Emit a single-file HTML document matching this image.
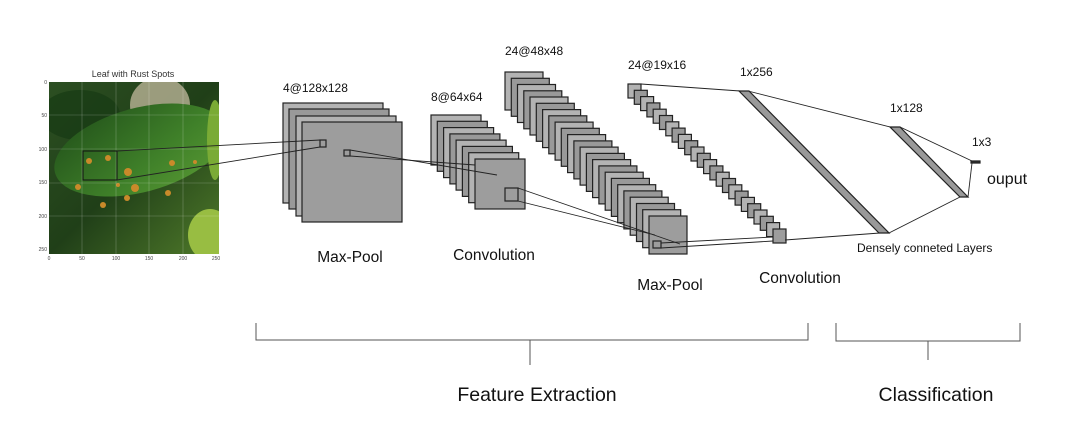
<!DOCTYPE html>
<html><head><meta charset="utf-8"><style>
html,body{margin:0;padding:0;background:#fff;width:1078px;height:426px;overflow:hidden}
svg{display:block;font-family:"Liberation Sans",sans-serif}
</style></head><body>
<svg width="1078" height="426" viewBox="0 0 1078 426" xmlns="http://www.w3.org/2000/svg">
<defs>
<linearGradient id="bg" x1="0" y1="0" x2="1" y2="1"><stop offset="0" stop-color="#2c4f22"/><stop offset=".5" stop-color="#203f18"/><stop offset="1" stop-color="#4f7a2a"/></linearGradient>
<linearGradient id="lf" x1="0" y1="0" x2="1" y2="1"><stop offset="0" stop-color="#21501a"/><stop offset=".6" stop-color="#3f8029"/><stop offset="1" stop-color="#5a9a34"/></linearGradient>
<clipPath id="c"><rect x="49" y="82" width="170" height="172"/></clipPath>
</defs>
<!-- leaf image -->
<text x="133" y="77" font-size="9" text-anchor="middle" fill="#333">Leaf with Rust Spots</text>
<g clip-path="url(#c)">
<rect x="49" y="82" width="170" height="172" fill="url(#bg)"/>
<ellipse cx="160" cy="105" rx="30" ry="28" fill="#b9b396" opacity=".8"/>
<ellipse cx="80" cy="115" rx="40" ry="25" fill="#173a14" opacity=".7"/>
<ellipse cx="140" cy="150" rx="88" ry="42" transform="rotate(-15 140 150)" fill="url(#lf)"/>
<ellipse cx="210" cy="235" rx="22" ry="26" fill="#98bd42"/>
<ellipse cx="215" cy="140" rx="8" ry="40" fill="#7aab35"/>
<g fill="#c98a2a"><circle cx="89" cy="161" r="3"/><circle cx="108" cy="158" r="3"/><circle cx="128" cy="172" r="4"/><circle cx="135" cy="188" r="4"/><circle cx="127" cy="198" r="3"/><circle cx="168" cy="193" r="3"/><circle cx="172" cy="163" r="3"/><circle cx="103" cy="205" r="3"/><circle cx="78" cy="187" r="3"/><circle cx="118" cy="185" r="2"/><circle cx="195" cy="162" r="2"/></g>
<g stroke="#fff" stroke-opacity=".3" stroke-width=".6"><line x1="82" y1="82" x2="82" y2="254"/><line x1="116" y1="82" x2="116" y2="254"/><line x1="149" y1="82" x2="149" y2="254"/><line x1="183" y1="82" x2="183" y2="254"/><line x1="49" y1="115" x2="219" y2="115"/><line x1="49" y1="149" x2="219" y2="149"/><line x1="49" y1="183" x2="219" y2="183"/><line x1="49" y1="216" x2="219" y2="216"/></g>
</g>
<g font-size="5" fill="#444"><text x="47" y="84" text-anchor="end">0</text><text x="47" y="117" text-anchor="end">50</text><text x="47" y="151" text-anchor="end">100</text><text x="47" y="184" text-anchor="end">150</text><text x="47" y="218" text-anchor="end">200</text><text x="47" y="251" text-anchor="end">250</text>
<text x="49" y="260" text-anchor="middle">0</text><text x="82" y="260" text-anchor="middle">50</text><text x="116" y="260" text-anchor="middle">100</text><text x="149" y="260" text-anchor="middle">150</text><text x="183" y="260" text-anchor="middle">200</text><text x="216" y="260" text-anchor="middle">250</text></g>
<rect x="83" y="151" width="34" height="29" fill="none" stroke="#111" stroke-width="1"/>

<g stroke="#222" stroke-width="1.2">
<rect x="283" y="103" width="100" height="100" fill="#b3b3b3"/>
<rect x="289" y="109" width="100" height="100" fill="#999"/>
<rect x="296" y="116" width="100" height="100" fill="#b3b3b3"/>
<rect x="302" y="122" width="100" height="100" fill="#9d9d9d"/>
<rect x="320" y="140" width="6" height="7" fill="none"/>
<rect x="344" y="150" width="6" height="6" fill="none"/>
<rect x="431" y="115" width="50" height="50" fill="#b3b3b3"/>
<rect x="437.3" y="121.3" width="50" height="50" fill="#999"/>
<rect x="443.6" y="127.6" width="50" height="50" fill="#b3b3b3"/>
<rect x="449.9" y="133.9" width="50" height="50" fill="#999"/>
<rect x="456.1" y="140.1" width="50" height="50" fill="#b3b3b3"/>
<rect x="462.4" y="146.4" width="50" height="50" fill="#999"/>
<rect x="468.7" y="152.7" width="50" height="50" fill="#b3b3b3"/>
<rect x="475" y="159" width="50" height="50" fill="#9d9d9d"/>
<rect x="505" y="188" width="13" height="13" fill="none"/>
</g>
<g stroke="#222" stroke-width="1.2" transform="translate(505,72)">
<rect x="0" y="0" width="38" height="38" fill="#b3b3b3"/>
<rect x="6.3" y="6.3" width="38" height="38" fill="#999"/>
<rect x="12.5" y="12.5" width="38" height="38" fill="#b3b3b3"/>
<rect x="18.8" y="18.8" width="38" height="38" fill="#999"/>
<rect x="25" y="25" width="38" height="38" fill="#b3b3b3"/>
<rect x="31.3" y="31.3" width="38" height="38" fill="#999"/>
<rect x="37.6" y="37.6" width="38" height="38" fill="#b3b3b3"/>
<rect x="43.8" y="43.8" width="38" height="38" fill="#999"/>
<rect x="50.1" y="50.1" width="38" height="38" fill="#b3b3b3"/>
<rect x="56.3" y="56.3" width="38" height="38" fill="#999"/>
<rect x="62.6" y="62.6" width="38" height="38" fill="#b3b3b3"/>
<rect x="68.9" y="68.9" width="38" height="38" fill="#999"/>
<rect x="75.1" y="75.1" width="38" height="38" fill="#b3b3b3"/>
<rect x="81.4" y="81.4" width="38" height="38" fill="#999"/>
<rect x="87.6" y="87.6" width="38" height="38" fill="#b3b3b3"/>
<rect x="93.9" y="93.9" width="38" height="38" fill="#999"/>
<rect x="100.2" y="100.2" width="38" height="38" fill="#b3b3b3"/>
<rect x="106.4" y="106.4" width="38" height="38" fill="#999"/>
<rect x="112.7" y="112.7" width="38" height="38" fill="#b3b3b3"/>
<rect x="118.9" y="118.9" width="38" height="38" fill="#999"/>
<rect x="125.2" y="125.2" width="38" height="38" fill="#b3b3b3"/>
<rect x="131.5" y="131.5" width="38" height="38" fill="#999"/>
<rect x="137.7" y="137.7" width="38" height="38" fill="#b3b3b3"/>
<rect x="144" y="144" width="38" height="38" fill="#9d9d9d"/>
<rect x="148" y="169" width="8" height="7" fill="none"/>
</g>
<g stroke="#222" stroke-width="1.2" transform="translate(628,84)">
<rect x="0" y="0" width="13" height="14" fill="#b3b3b3"/>
<rect x="6.3" y="6.3" width="13" height="14" fill="#999"/>
<rect x="12.6" y="12.6" width="13" height="14" fill="#b3b3b3"/>
<rect x="18.9" y="18.9" width="13" height="14" fill="#999"/>
<rect x="25.2" y="25.2" width="13" height="14" fill="#b3b3b3"/>
<rect x="31.5" y="31.5" width="13" height="14" fill="#999"/>
<rect x="37.8" y="37.8" width="13" height="14" fill="#b3b3b3"/>
<rect x="44.1" y="44.1" width="13" height="14" fill="#999"/>
<rect x="50.4" y="50.4" width="13" height="14" fill="#b3b3b3"/>
<rect x="56.7" y="56.7" width="13" height="14" fill="#999"/>
<rect x="63" y="63" width="13" height="14" fill="#b3b3b3"/>
<rect x="69.3" y="69.3" width="13" height="14" fill="#999"/>
<rect x="75.6" y="75.6" width="13" height="14" fill="#b3b3b3"/>
<rect x="81.9" y="81.9" width="13" height="14" fill="#999"/>
<rect x="88.2" y="88.2" width="13" height="14" fill="#b3b3b3"/>
<rect x="94.5" y="94.5" width="13" height="14" fill="#999"/>
<rect x="100.8" y="100.8" width="13" height="14" fill="#b3b3b3"/>
<rect x="107.1" y="107.1" width="13" height="14" fill="#999"/>
<rect x="113.4" y="113.4" width="13" height="14" fill="#b3b3b3"/>
<rect x="119.7" y="119.7" width="13" height="14" fill="#999"/>
<rect x="126" y="126" width="13" height="14" fill="#b3b3b3"/>
<rect x="132.3" y="132.3" width="13" height="14" fill="#999"/>
<rect x="138.6" y="138.6" width="13" height="14" fill="#b3b3b3"/>
<rect x="145" y="145" width="13" height="14" fill="#9d9d9d"/>
</g>
<g stroke="#222" stroke-width="1.2" fill="#999">
<polygon points="739,91 749,91 889,233 879,233"/>
<polygon points="890,127 900,127 968,197 960,197"/>
<polygon points="971,161 980,161 980,163 971,163" fill="#333"/>
</g>
<g stroke="#222" stroke-width=".9" fill="none">
<line x1="117" y1="151" x2="320" y2="140"/>
<line x1="117" y1="180" x2="320" y2="147"/>
<line x1="350" y1="150" x2="497" y2="175"/>
<line x1="350" y1="156" x2="475" y2="165"/>
<line x1="518" y1="188" x2="680" y2="244"/>
<line x1="518" y1="201" x2="655" y2="235"/>
<line x1="661" y1="243" x2="773" y2="237"/>
<line x1="661" y1="248" x2="773" y2="241"/>
<line x1="641" y1="84" x2="740" y2="91"/>
<line x1="785" y1="240" x2="880" y2="233"/>
<line x1="748" y1="91" x2="890" y2="127"/>
<line x1="889" y1="233" x2="960" y2="197"/>
<line x1="900" y1="127" x2="972" y2="161"/>
<line x1="968" y1="197" x2="972" y2="163"/>
</g>
<g font-size="12" fill="#111">
<text x="283" y="92">4@128x128</text>
<text x="431" y="101">8@64x64</text>
<text x="505" y="55">24@48x48</text>
<text x="628" y="69">24@19x16</text>
<text x="740" y="76">1x256</text>
<text x="890" y="112">1x128</text>
<text x="972" y="146">1x3</text>
</g>
<g font-size="15.5" fill="#111" text-anchor="middle">
<text x="350" y="262">Max-Pool</text>
<text x="494" y="260">Convolution</text>
<text x="670" y="290">Max-Pool</text>
<text x="800" y="283">Convolution</text>
</g>
<text x="987" y="184" font-size="16" fill="#111">ouput</text>
<text x="857" y="252" font-size="12" fill="#111">Densely conneted Layers</text>
<g stroke="#555" stroke-width="1" fill="none">
<polyline points="256,323 256,340 808,340 808,323"/>
<line x1="530" y1="340" x2="530" y2="365"/>
<polyline points="836,323 836,341 1020,341 1020,323"/>
<line x1="928" y1="341" x2="928" y2="360"/>
</g>
<text x="537" y="401" font-size="19.5" text-anchor="middle" fill="#111">Feature Extraction</text>
<text x="936" y="401" font-size="19.5" text-anchor="middle" fill="#111">Classification</text>
</svg>
</body></html>
